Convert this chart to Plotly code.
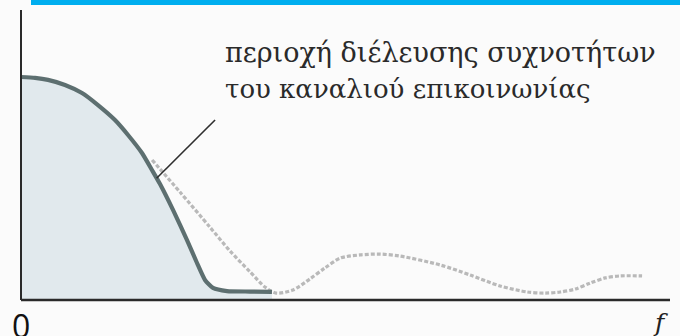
import plotly.graph_objects as go

# Channel magnitude response |H(f)| (passband) and the signal spectrum (dashed)
freq_channel = [0.000, 0.216, 0.416, 0.678, 0.940, 1.186, 1.448, 1.649, 1.864, 2.018, 2.142,
                2.342, 2.558, 2.712, 2.835, 2.958, 3.174, 3.528, 3.867]
gain_channel = [1.000, 0.996, 0.987, 0.964, 0.928, 0.874, 0.807, 0.740, 0.659, 0.583, 0.520,
                0.404, 0.269, 0.166, 0.090, 0.054, 0.040, 0.038, 0.036]

freq_signal = [2.02, 2.45, 2.91, 3.22, 3.53, 3.76, 3.93, 4.19, 4.45, 4.68, 4.92, 5.22, 5.53, 5.84,
               6.46, 6.92, 7.38, 7.80, 8.07, 8.31, 8.54, 8.77, 9.00, 9.23, 9.57]
gain_signal = [0.628, 0.484, 0.327, 0.220, 0.126, 0.058, 0.031, 0.045, 0.094, 0.143, 0.188, 0.202, 0.206, 0.197,
               0.157, 0.112, 0.063, 0.036, 0.031, 0.036, 0.049, 0.076, 0.099, 0.108, 0.108]

label_lines = ["περιοχή διέλευσης συχνοτήτων", "του καναλιού επικοινωνίας"]
origin_label = "0"
axis_label = "f"

SERIF = "DejaVu Serif"
SANS = "Open Sans"

W, H = 680, 336
# pixel placement of the axes: f=0 at x=21px, f=10 at x=670px; gain 0 at y=300px, gain 1 at y=77px
fx0, fx_per = 21.0, 64.9
gy0, gy_per = 300.0, 223.0
x_range = [-fx0 / fx_per, (W - fx0) / fx_per]
y_range = [-(H - gy0) / gy_per, gy0 / gy_per]

fig = go.Figure()

fig.add_trace(go.Scatter(
    x=freq_signal, y=gain_signal, mode="lines",
    line=dict(color="#b9b9b9", width=3.2, dash="4px,2px", shape="spline", smoothing=0.8),
    hoverinfo="skip", showlegend=False,
))

fig.add_trace(go.Scatter(
    x=freq_channel, y=gain_channel, mode="lines",
    line=dict(color="#5d6f70", width=4.2, shape="spline", smoothing=0.5),
    fill="tozeroy", fillcolor="#e1e9ed",
    hoverinfo="skip", showlegend=False,
))

shapes = [
    # top accent bar
    dict(type="rect", xref="paper", yref="paper", x0=31 / W, x1=1, y0=1 - 5 / H, y1=1,
         fillcolor="#00aeef", line=dict(width=0), layer="above"),
    # vertical axis
    dict(type="line", xref="x", yref="y", x0=0, x1=0, y0=0, y1=(gy0 - 10) / gy_per,
         line=dict(color="#2a2a2a", width=2)),
    # frequency axis
    dict(type="line", xref="x", yref="y", x0=0, x1=(670 - fx0) / fx_per, y0=0, y1=0,
         line=dict(color="#2a2a2a", width=2.5)),
    # leader line from the label to the passband edge
    dict(type="line", xref="x", yref="y", x0=2.09, y0=0.546, x1=2.99, y1=0.807,
         line=dict(color="#2e2e2e", width=1.6)),
]

annotations = [
    dict(text=label_lines[0], xref="paper", yref="paper", x=223 / W, y=1 - 35 / H,
         xanchor="left", yanchor="top", showarrow=False,
         font=dict(family=SERIF, size=27, color="#2a2a2a")),
    dict(text=label_lines[1], xref="paper", yref="paper", x=223 / W, y=1 - 72 / H,
         xanchor="left", yanchor="top", showarrow=False,
         font=dict(family=SERIF, size=26, color="#2a2a2a")),
    dict(text=origin_label, xref="x", yref="paper", x=0, y=1 - 302 / H,
         xanchor="center", yanchor="top", showarrow=False,
         font=dict(family=SANS, size=32, color="#111111")),
    dict(text="<i>" + axis_label + "</i>", xref="x", yref="paper", x=(660 - fx0) / fx_per, y=1 - 306 / H,
         xanchor="center", yanchor="top", showarrow=False,
         font=dict(family=SERIF, size=25, color="#222222")),
]

fig.update_layout(
    width=W, height=H,
    margin=dict(l=0, r=0, t=0, b=0, pad=0),
    paper_bgcolor="#fbfbfb", plot_bgcolor="#fbfbfb",
    xaxis=dict(range=x_range, visible=False, fixedrange=True),
    yaxis=dict(range=y_range, visible=False, fixedrange=True),
    shapes=shapes, annotations=annotations,
    showlegend=False,
)

fig.write_html("out.html", config={"displayModeBar": False})
